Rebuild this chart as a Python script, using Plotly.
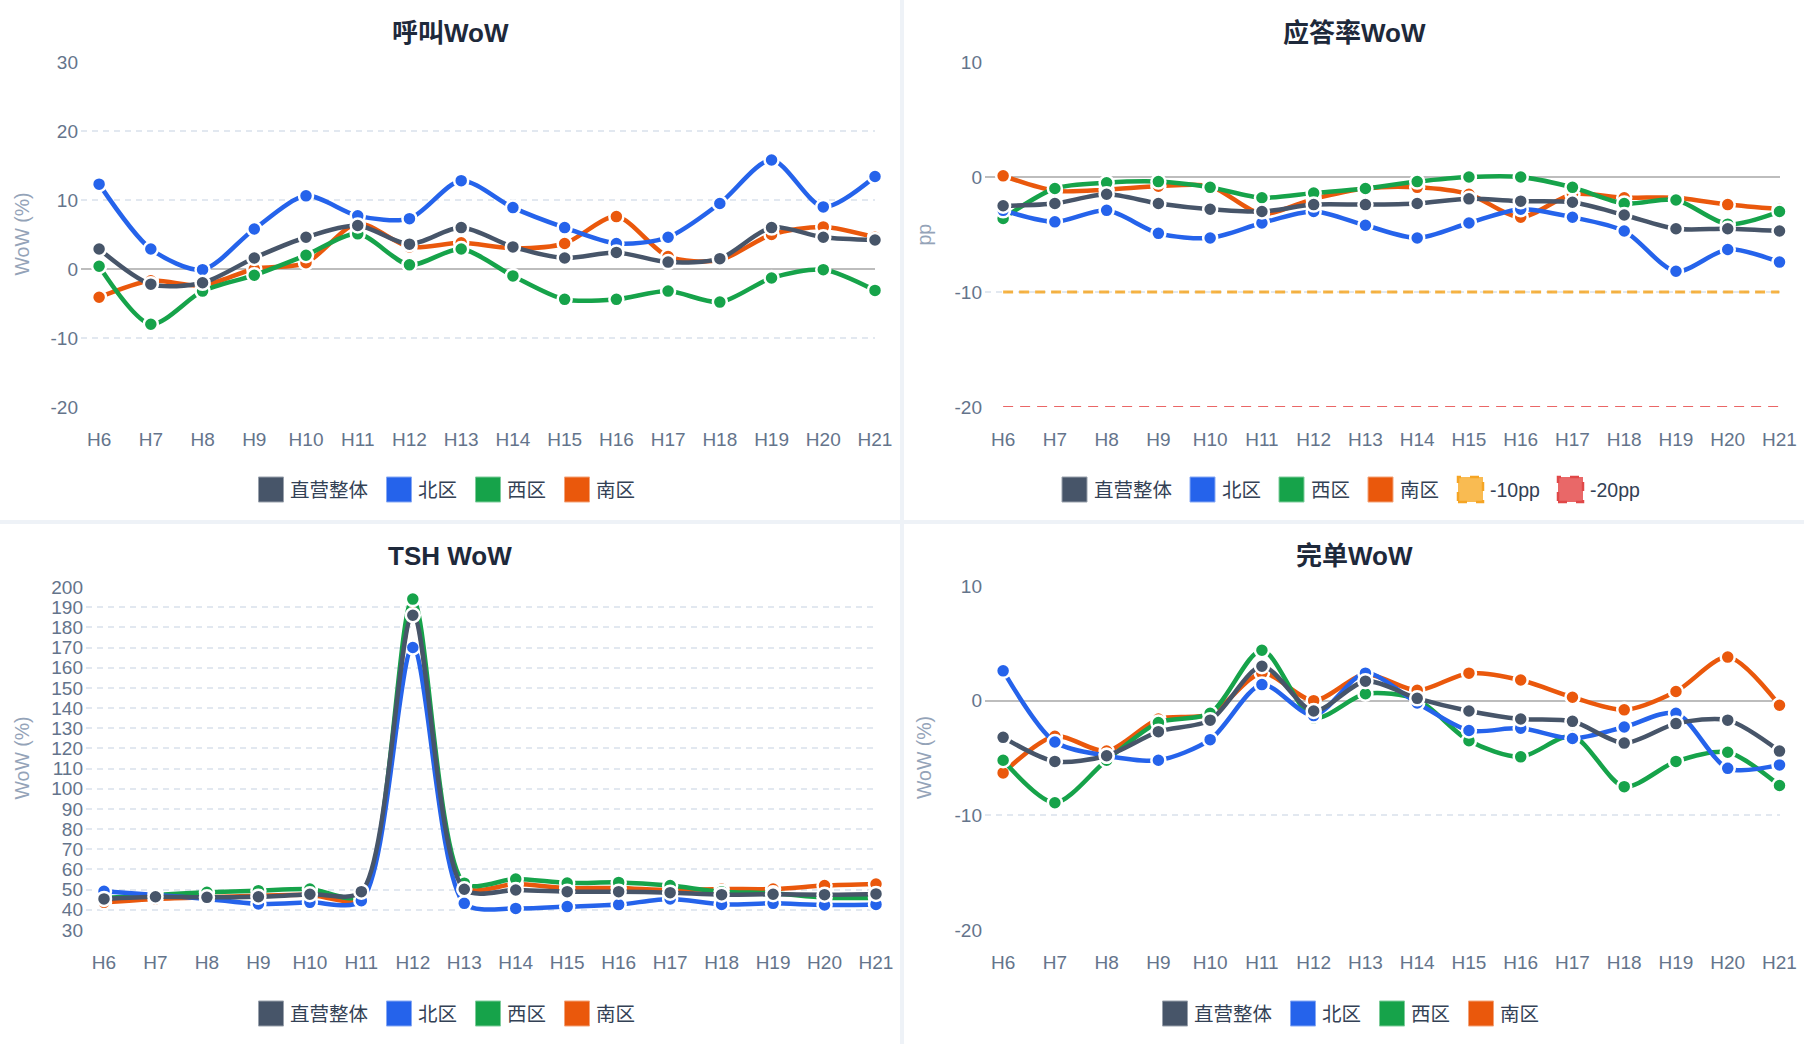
import plotly.graph_objects as go

# ---------------- data ----------------
hours = ["H6", "H7", "H8", "H9", "H10", "H11", "H12", "H13", "H14", "H15",
         "H16", "H17", "H18", "H19", "H20", "H21"]
series_names = ["直营整体", "北区", "西区", "南区"]

call_total = [2.9, -2.2, -2.0, 1.6, 4.6, 6.3, 3.6, 6.0, 3.2, 1.6, 2.4, 1.0, 1.5, 6.0, 4.6, 4.2]
call_north = [12.3, 2.9, -0.1, 5.8, 10.6, 7.7, 7.3, 12.8, 8.9, 6.0, 3.7, 4.6, 9.5, 15.8, 9.0, 13.4]
call_west = [0.4, -8.0, -3.2, -0.9, 2.0, 5.1, 0.6, 2.9, -1.0, -4.4, -4.4, -3.2, -4.8, -1.3, -0.1, -3.1]
call_south = [-4.1, -1.7, -2.4, 0.0, 0.9, 6.6, 3.2, 3.8, 3.0, 3.7, 7.6, 1.8, 1.3, 5.0, 6.1, 4.6]

ans_total = [-2.5, -2.3, -1.5, -2.3, -2.8, -3.0, -2.4, -2.4, -2.3, -1.9, -2.1, -2.2, -3.3, -4.5, -4.5, -4.7]
ans_north = [-2.9, -3.9, -2.9, -4.9, -5.3, -4.0, -3.0, -4.2, -5.3, -4.0, -2.8, -3.5, -4.7, -8.2, -6.3, -7.4]
ans_west = [-3.6, -1.0, -0.5, -0.4, -0.9, -1.8, -1.4, -1.0, -0.4, 0.0, 0.0, -0.9, -2.3, -2.0, -4.1, -3.0]
ans_south = [0.1, -1.2, -1.1, -0.8, -0.8, -3.2, -1.9, -1.0, -0.9, -1.5, -3.5, -1.5, -1.8, -1.8, -2.4, -2.8]
ans_ref10 = [-10] * 16
ans_ref20 = [-20] * 16

tsh_total = [45.4, 46.5, 46.2, 46.5, 47.7, 49.0, 186.0, 50.2, 49.8, 49.0, 49.0, 48.5, 47.5, 47.7, 47.5, 47.9]
tsh_north = [49.2, 47.4, 45.4, 42.9, 43.7, 44.5, 170.0, 43.2, 40.7, 41.6, 42.6, 45.4, 42.7, 43.2, 42.4, 42.7]
tsh_west = [45.8, 47.4, 48.7, 49.5, 50.3, 47.0, 194.0, 53.2, 55.3, 53.3, 53.6, 52.0, 49.0, 48.2, 46.0, 46.0]
tsh_south = [43.7, 45.4, 46.2, 47.0, 47.4, 46.0, 188.0, 51.2, 52.8, 50.8, 50.8, 49.7, 50.3, 50.3, 52.0, 52.8]

done_total = [-3.2, -5.3, -4.8, -2.7, -1.7, 3.0, -0.9, 1.7, 0.2, -0.9, -1.6, -1.8, -3.7, -2.0, -1.7, -4.4]
done_north = [2.6, -3.6, -4.8, -5.2, -3.4, 1.4, -1.3, 2.4, -0.2, -2.6, -2.4, -3.3, -2.3, -1.1, -5.9, -5.6]
done_west = [-5.2, -8.9, -5.2, -1.9, -1.1, 4.4, -1.5, 0.6, 0.1, -3.5, -4.9, -3.1, -7.5, -5.3, -4.5, -7.4]
done_south = [-6.3, -3.1, -4.4, -1.6, -1.2, 2.4, 0.0, 2.3, 0.9, 2.4, 1.8, 0.3, -0.8, 0.8, 3.8, -0.4]

# ---------------- styles ----------------
W, H = 1804, 1044
colors = ["#475569", "#2563eb", "#16a34a", "#ea580c"]
ref10_color = "rgba(245,166,35,0.85)"
ref20_color = "rgba(230,75,75,0.85)"
FONT = "Liberation Sans, Noto Sans CJK SC, sans-serif"
TICK_COLOR = "#64748b"
GRID_COLOR = "#e2e8f0"
BG_GAP = "#eef2f7"


def fx(px):
    return px / W


def fy(py):
    return 1 - py / H


def tint(hexc, f=0.45):
    hexc = hexc.lstrip("#")
    r, g, b = (int(hexc[i:i + 2], 16) for i in (0, 2, 4))
    r, g, b = (int(c + (255 - c) * f) for c in (r, g, b))
    return f"#{r:02x}{g:02x}{b:02x}"


def ylabels(lo, hi, step):
    vals = list(range(lo, hi + 1, step))
    return vals, [str(v) for v in vals]


panels = [
    dict(title="呼叫WoW", ytitle="WoW (%)", data=[call_total, call_north, call_west, call_south],
         yrange=[-20, 30], dtick=10, xdom=(81, 875), ydom=(62, 407), card=(0, 0, 900, 520),
         title_y=33, ytitle_x=22, legend_y=489.5, cx=450, zero=True, refs=False),
    dict(title="应答率WoW", ytitle="pp", data=[ans_total, ans_north, ans_west, ans_south],
         yrange=[-20, 10], dtick=10, xdom=(985, 1779.5), ydom=(62, 407), card=(904, 0, 1804, 520),
         title_y=33, ytitle_x=924, legend_y=489.5, cx=1354, zero=True, refs=True),
    dict(title="TSH WoW", ytitle="WoW (%)", data=[tsh_total, tsh_north, tsh_west, tsh_south],
         yrange=[30, 200], dtick=10, xdom=(86, 876), ydom=(587, 930), card=(0, 524, 900, 1044),
         title_y=556, ytitle_x=21, legend_y=1013.5, cx=450, zero=False, refs=False),
    dict(title="完单WoW", ytitle="WoW (%)", data=[done_total, done_north, done_west, done_south],
         yrange=[-20, 10], dtick=10, xdom=(985, 1779.5), ydom=(586, 930), card=(904, 524, 1804, 1044),
         title_y=556, ytitle_x=924, legend_y=1013.5, cx=1354, zero=True, refs=False),
]

fig = go.Figure()
shapes = []
annotations = []
layout_axes = {}

text_w = {"直营整体": 78, "北区": 39, "西区": 39, "南区": 40, "-10pp": 50, "-20pp": 51}

for i, p in enumerate(panels):
    n = "" if i == 0 else str(i + 1)
    xa, ya = "x" + n, "y" + n
    # card
    x0, y0, x1, y1 = p["card"]
    shapes.append(dict(type="rect", xref="paper", yref="paper", layer="below",
                       x0=fx(x0), x1=fx(x1), y0=fy(y1), y1=fy(y0),
                       fillcolor="white", line=dict(width=0)))
    # axes
    layout_axes["xaxis" + n] = dict(
        domain=[fx(p["xdom"][0]), fx(p["xdom"][1])], anchor=ya, automargin=False,
        type="category", categoryorder="array", categoryarray=hours,
        range=[-0.35, 15], showgrid=False, zeroline=False, showline=False, ticks="",
        tickfont=dict(size=19, color=TICK_COLOR, family=FONT), ticklabelstandoff=19,
        fixedrange=True)
    tv, tt = ylabels(p["yrange"][0], p["yrange"][1], p["dtick"])
    layout_axes["yaxis" + n] = dict(
        domain=[fy(p["ydom"][1]), fy(p["ydom"][0])], anchor=xa, automargin=False,
        range=p["yrange"], tickmode="array", tickvals=tv, ticktext=tt, showgrid=True,
        gridcolor=GRID_COLOR, gridwidth=1.5, griddash="6px,5px",
        zeroline=p["zero"], zerolinecolor="#bdbdbd", zerolinewidth=2,
        showline=False, ticks="", tickfont=dict(size=19, color=TICK_COLOR, family=FONT),
        ticklabelstandoff=2, fixedrange=True)
    # reference lines (bottom-most)
    if p["refs"]:
        fig.add_trace(go.Scatter(x=hours, y=ans_ref20, mode="lines", name="-20pp",
                                 line=dict(color=ref20_color, width=2, dash="10px,7px"),
                                 xaxis=xa, yaxis=ya, showlegend=False, hoverinfo="skip"))
        fig.add_trace(go.Scatter(x=hours, y=ans_ref10, mode="lines", name="-10pp",
                                 line=dict(color=ref10_color, width=3, dash="10px,6px"),
                                 xaxis=xa, yaxis=ya, showlegend=False, hoverinfo="skip"))
    # series: draw last first so 直营整体 is on top
    for k in [3, 2, 1, 0]:
        fig.add_trace(go.Scatter(
            x=hours, y=p["data"][k], mode="lines+markers", name=series_names[k],
            line=dict(color=colors[k], width=4.5, shape="spline", smoothing=0.8),
            marker=dict(size=14, color=colors[k], line=dict(color="white", width=2.5)),
            xaxis=xa, yaxis=ya, showlegend=False, cliponaxis=False))
    # title
    annotations.append(dict(text=p["title"], xref="paper", yref="paper",
                            x=fx(p["cx"]), y=fy(p["title_y"]), xanchor="center", yanchor="middle",
                            showarrow=False,
                            font=dict(size=26, color="#1e293b", family=FONT, weight="bold")))
    # y axis title
    annotations.append(dict(text=p["ytitle"], xref="paper", yref="paper",
                            x=fx(p["ytitle_x"]), y=fy((p["ydom"][0] + p["ydom"][1]) / 2),
                            xanchor="center", yanchor="middle", textangle=-90, showarrow=False,
                            font=dict(size=19.5, color="#94a3b8", family=FONT)))
    # manual legend
    items = [(series_names[k], colors[k], "solid") for k in range(4)]
    if p["refs"]:
        items += [("-10pp", "#f9bb52", "ref10"), ("-20pp", "#e96868", "ref20")]
    sq, gap_t, gap_i = 25, 8, 17
    total_w = sum(sq + gap_t + text_w[nm] for nm, _, _ in items) + gap_i * (len(items) - 1)
    cur = p["cx"] - total_w / 2 - 2
    ly = p["legend_y"]
    for nm, col, kind in items:
        if kind == "solid":
            ln = dict(color=tint(col), width=1)
        elif kind == "ref10":
            ln = dict(color="#f5a524", width=2.5, dash="dash")
        else:
            ln = dict(color="#e04848", width=2.5, dash="dash")
        shapes.append(dict(type="rect", xref="paper", yref="paper",
                           x0=fx(cur), x1=fx(cur + sq), y0=fy(ly + sq / 2), y1=fy(ly - sq / 2),
                           fillcolor=col, line=ln))
        annotations.append(dict(text=nm, xref="paper", yref="paper",
                                x=fx(cur + sq + gap_t - 2.5), y=fy(ly), xanchor="left", yanchor="middle",
                                showarrow=False, borderpad=0,
                                font=dict(size=19.5, color="#334155", family=FONT)))
        cur += sq + gap_t + text_w[nm] + gap_i

fig.update_layout(
    template="none",
    width=W, height=H, autosize=False,
    margin=dict(l=0, r=0, t=0, b=0, pad=0, autoexpand=False),
    paper_bgcolor=BG_GAP, plot_bgcolor="rgba(0,0,0,0)",
    font=dict(family=FONT, color=TICK_COLOR),
    shapes=shapes, annotations=annotations, showlegend=False,
    **layout_axes,
)

fig.write_html("out.html", config={"displayModeBar": False},
               post_script="document.body.style.margin='0';document.body.style.overflow='hidden';")
